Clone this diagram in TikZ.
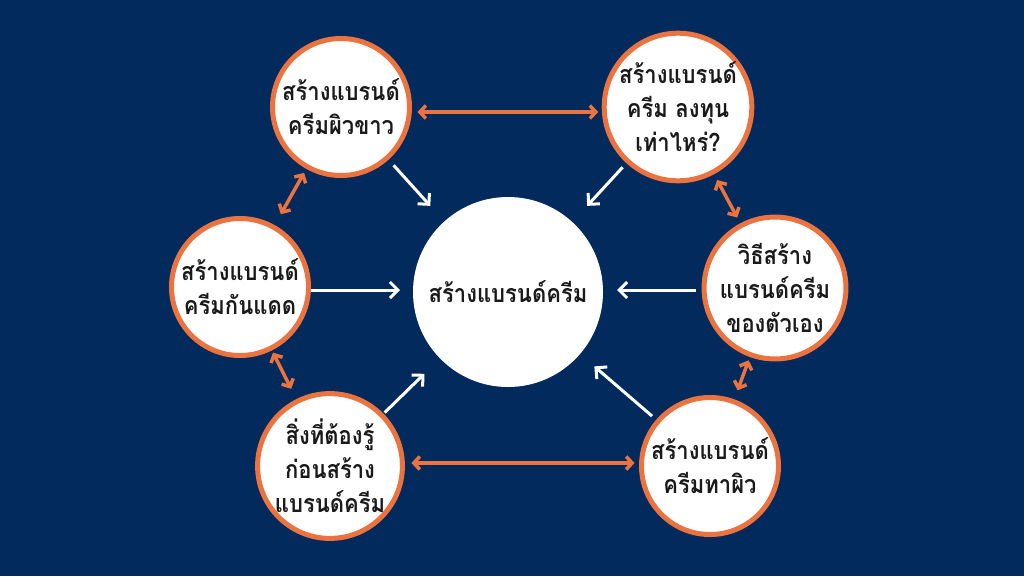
\documentclass[tikz,border=0pt]{standalone}
\usepackage{fontspec}
\newfontfamily\thaifont[Script=Thai,FakeStretch=0.88]{Loma}
\usetikzlibrary{arrows.meta}
\definecolor{bgnavy}{HTML}{022A5C}
\definecolor{ringorange}{HTML}{EB7340}
\definecolor{txtdark}{HTML}{1A1A1A}
\tikzset{
  outer/.style={circle, draw=ringorange, line width=5pt, fill=white, minimum size=137pt, inner sep=0pt, outer sep=0pt,
    align=center, text=txtdark, font=\thaifont\bfseries\fontsize{25}{34}\selectfont},
  hub/.style={circle, fill=white, minimum size=190pt, inner sep=0pt, outer sep=0pt,
    align=center, text=txtdark, font=\thaifont\bfseries\fontsize{25}{34}\selectfont},
  twoway/.style={draw=ringorange, line width=3.5pt, {Straight Barb[length=6pt,width=13pt]}-{Straight Barb[length=6pt,width=13pt]}},
  inward/.style={draw=white, line width=3pt, -{Straight Barb[length=8pt,width=16pt]}}
}
\begin{document}
\begin{tikzpicture}[x=1pt,y=-1pt]
\fill[bgnavy] (0,0) rectangle (1024,576);
\useasboundingbox (0,0) rectangle (1024,576);
\node[hub] (C) at (508,292) {สร้างแบรนด์ครีม};
\node[outer] (TL) at (341,107) {สร้างแบรนด์\\ครีมผิวขาว};
\node[outer] (TR) at (678,107) {สร้างแบรนด์\\ครีม ลงทุน\\เท่าไหร่?};
\node[outer] (L) at (240,287) {สร้างแบรนด์\\ครีมกันแดด};
\node[outer] (R) at (775,288) {วิธีสร้าง\\แบรนด์ครีม\\ของตัวเอง};
\node[outer] (BL) at (330,466) {สิ่งที่ต้องรู้\\ก่อนสร้าง\\แบรนด์ครีม};
\node[outer] (BR) at (710,466) {สร้างแบรนด์\\ครีมทาผิว};
% two-way links
\draw[twoway, shorten <=8pt, shorten >=6pt] ([yshift=-5pt]TL.east) -- ([yshift=-5pt]TR.west);
\draw[twoway, shorten <=9pt, shorten >=7pt] ([yshift=3pt]BL.east) -- ([yshift=3pt]BR.west);
\draw[twoway, shorten <=7pt, shorten >=15pt] (TL) -- (L);
\draw[twoway, shorten <=9pt, shorten >=9pt] (TR) -- (R);
\draw[twoway, shorten <=5pt, shorten >=14pt] (L) -- (BL);
\draw[twoway, shorten <=6pt, shorten >=12pt] (R) -- (BR);
% inward arrows
\draw[inward, shorten <=10pt, shorten >=21pt] (TL) -- (C);
\draw[inward, shorten <=8pt, shorten >=22pt] (TR) -- (C);
\draw[inward, shorten <=2pt, shorten >=13pt] ([yshift=-3pt]L.east) -- ([yshift=2pt]C.west);
\draw[inward, shorten <=8pt, shorten >=14pt] ([yshift=-2pt]R.west) -- ([yshift=2pt]C.east);
\draw[inward, shorten <=4pt, shorten >=22pt] (BL) -- (C);
\draw[inward, shorten <=8pt, shorten >=19pt] (BR) -- (C);
\end{tikzpicture}
\end{document}
